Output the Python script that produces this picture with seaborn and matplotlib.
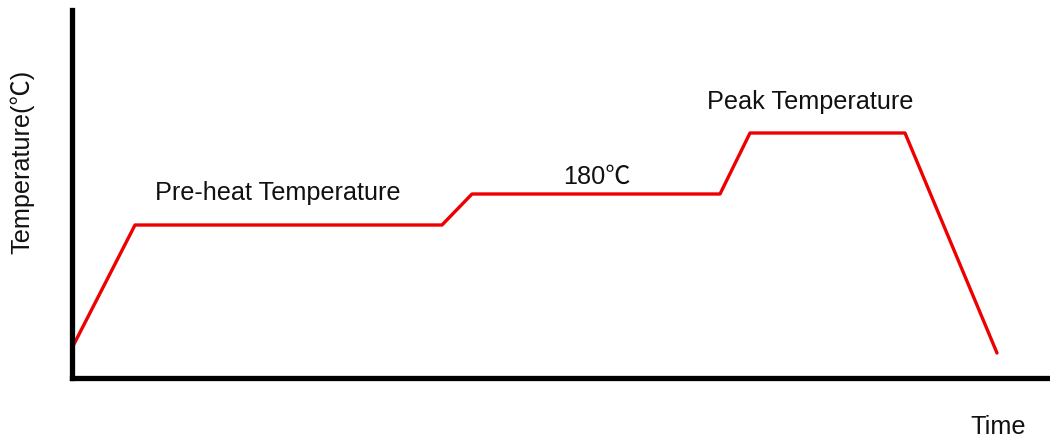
import pandas as pd
import matplotlib
matplotlib.use("Agg")
import matplotlib.pyplot as plt
import seaborn as sns

# --- DATA (reflow profile, arbitrary units) ---
time_pts = [0, 63, 370, 400, 648, 678, 833, 925]
temp_pts = [30, 153, 153, 184, 184, 245, 245, 25]

label_text = ["Pre-heat Temperature", "180℃", "Peak Temperature"]
label_x = [206, 525, 738]
label_y = [185, 201, 276]

df = pd.DataFrame({"time": time_pts, "temp": temp_pts})

sns.set_style("white")
plt.rcParams["font.family"] = ["Liberation Sans", "Noto Sans CJK SC", "DejaVu Sans"]

W, H = 1050, 441
fig = plt.figure(figsize=(W / 100, H / 100), dpi=100)
ax = fig.add_axes([72 / W, (H - 378) / H, 978 / W, 368 / H])

sns.lineplot(data=df, x="time", y="temp", sort=False, estimator=None,
             color="#ee0000", linewidth=2.4, ax=ax)

ax.set_xlim(0, 978)
ax.set_ylim(0, 368)
ax.set_xticks([])
ax.set_yticks([])
ax.set_xlabel("")
ax.set_ylabel("")

for side in ["top", "right"]:
    ax.spines[side].set_visible(False)
for side in ["left", "bottom"]:
    ax.spines[side].set_color("black")
    ax.spines[side].set_linewidth(3.8)
    ax.spines[side].set_capstyle("projecting")

for txt, x, y in zip(label_text, label_x, label_y):
    ax.text(x, y, txt, ha="center", va="center", fontsize=18.2, color="#111111")

fig.text(998 / W, 1 - 427 / H, "Time", ha="center", va="center",
         fontsize=18.2, color="#111111")
fig.text(22 / W, 1 - 162 / H, "Temperature(℃)", ha="center", va="center",
         rotation=90, fontsize=18.2, color="#111111")

fig.savefig("out.png", dpi=100, facecolor="white")
